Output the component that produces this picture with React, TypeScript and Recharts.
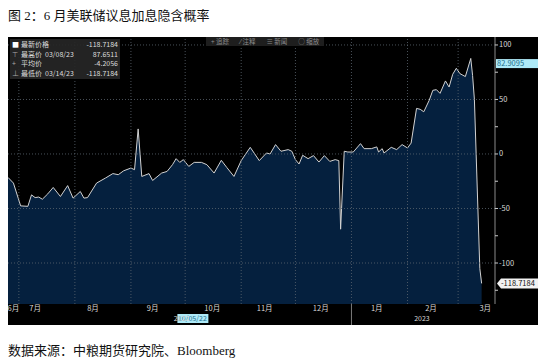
import { Area, AreaChart, ReferenceLine, XAxis, YAxis } from "recharts";

// implied hike probability, daily closes
const dates = [
  "2022-06-25", "2022-06-28", "2022-07-02", "2022-07-06", "2022-07-08", "2022-07-10", "2022-07-12",
  "2022-07-14", "2022-07-17", "2022-07-20", "2022-07-24", "2022-07-28", "2022-07-31", "2022-08-04",
  "2022-08-06", "2022-08-08", "2022-08-13", "2022-08-18", "2022-08-22", "2022-08-25", "2022-08-28",
  "2022-09-01", "2022-09-03", "2022-09-05", "2022-09-07", "2022-09-11", "2022-09-13", "2022-09-18",
  "2022-09-21", "2022-09-24", "2022-09-26", "2022-09-28", "2022-09-30", "2022-10-03", "2022-10-06",
  "2022-10-10", "2022-10-13", "2022-10-17", "2022-10-21", "2022-10-24", "2022-10-28", "2022-11-01",
  "2022-11-06", "2022-11-11", "2022-11-15", "2022-11-17", "2022-11-20", "2022-11-23", "2022-11-27",
  "2022-11-29", "2022-12-01", "2022-12-03", "2022-12-05", "2022-12-08", "2022-12-11", "2022-12-14",
  "2022-12-17", "2022-12-20", "2022-12-23", "2022-12-25", "2022-12-26", "2022-12-28", "2022-12-30",
  "2023-01-02", "2023-01-06", "2023-01-08", "2023-01-12", "2023-01-15", "2023-01-16", "2023-01-18",
  "2023-01-19", "2023-01-23", "2023-01-26", "2023-01-29", "2023-02-01", "2023-02-03", "2023-02-06",
  "2023-02-08", "2023-02-10", "2023-02-13", "2023-02-15", "2023-02-17", "2023-02-19", "2023-02-22",
  "2023-02-24", "2023-02-26", "2023-02-28", "2023-03-02", "2023-03-05", "2023-03-08", "2023-03-09",
  "2023-03-10", "2023-03-13", "2023-03-14",
];
const values = [
  -21.5, -26.7, -47.6, -48, -37.5, -40, -39.5,
  -41.5, -36.6, -30.7, -39, -29, -40.5, -34.4,
  -40.5, -40, -26.7, -22, -18, -19, -15.4,
  -12.9, -14.4, 23, -20.6, -18, -24.3, -17.5,
  -16, -9.8, -4.3, -7.7, -5.2, -11.4, -7.7,
  -7.7, -9.8, -17.5, -5.8, -12.3, -20.6, -6.1,
  6.1, -6.1, 0.9, 0, 8.6, 2.5, 4,
  2.5, -5.2, -9.2, -1.2, -4.3, -1.5, -7.4,
  -1.5, -6.8, -5.2, -6.1, -69, 2.5, 1.8,
  1.8, 9.5, 4.9, 4.9, 6.5, 1.8, 4.9,
  0.9, 6.1, 4, 8.6, 5.5, 10, 41.8,
  41, 38.7, 49.2, 58.4, 59, 55.6, 67,
  61.4, 73.1, 78.6, 73.7, 71, 87.6511, 72,
  50, -105, -118.7184,
];

const monthStarts = [
  "2022-07-01", "2022-08-01", "2022-09-01", "2022-10-01", "2022-11-01",
  "2022-12-01", "2023-01-01", "2023-02-01", "2023-03-01",
];
const monthLabels = ["6月", "7月", "8月", "9月", "10月", "11月", "12月", "1月", "2月", "3月"];
const monthLabelDates = [
  "2022-06-28", "2022-07-10", "2022-08-11", "2022-09-13", "2022-10-16",
  "2022-11-14", "2022-12-15", "2023-01-15", "2023-02-14", "2023-03-16",
];
const yearLabels = ["2022", "2023"];
const yearLabelDates = ["2022-09-29", "2023-02-09"];
const yTicks = [-125, -100, -75, -50, -25, 0, 25, 50, 75, 100];
const yGrid = [-100, -50, 0, 50, 100];

const legendRows = [
  { mark: "■", name: "最新价格", date: "", value: "-118.7184" },
  { mark: "⊤", name: "最高价", date: "03/08/23", value: "87.6511" },
  { mark: "+", name: "平均价", date: "", value: "-4.2056" },
  { mark: "⊥", name: "最低价", date: "03/14/23", value: "-118.7184" },
];
const toolbarItems = ["+ 追踪", "⁄ 注释", "≡ 新闻", "○ 缩放"];

const DAY0 = Date.UTC(2022, 5, 1);
const toDay = (s: string) => (Date.parse(s) - DAY0) / 86400000;

const data = dates.map((d, i) => ({ day: toDay(d), value: values[i] }));
const monthTickDays = monthLabelDates.map(toDay);
const yearTickDays = yearLabelDates.map(toDay);

const FONT = "'Noto Sans CJK SC', 'Noto Sans', sans-serif";
const AXIS_TEXT = "#d8d8d8";
const GRID = "#5c6670";

const MonthTick = ({ x, y, payload }: any) => {
  const idx = monthTickDays.indexOf(payload.value);
  return (
    <text x={x} y={y + 7} textAnchor="middle" fontSize={7.5} fontFamily={FONT} fill={AXIS_TEXT}>
      {monthLabels[idx]}
    </text>
  );
};

const YearTick = ({ x, y, payload }: any) => {
  const idx = yearTickDays.indexOf(payload.value);
  return (
    <text x={x} y={y + 6} textAnchor="middle" fontSize={7} fontFamily={FONT} fill={AXIS_TEXT}>
      {yearLabels[idx]}
    </text>
  );
};

const ValueTick = ({ x, y, payload }: any) => {
  if (payload.value % 50 !== 0) return null;
  return (
    <text x={x} y={y + 2.5} fontSize={7.5} fontFamily={FONT} fill={AXIS_TEXT}>
      {payload.value}
    </text>
  );
};

const CyanTag = ({ viewBox }: any) => {
  const x = viewBox.x + viewBox.width + 1;
  return (
    <g>
      <rect x={x} y={viewBox.y - 4.5} width={42} height={9} fill="#aeeaf8" />
      <text x={x + 1} y={viewBox.y + 2.5} fontSize={7.5} fontFamily={FONT} fill="#1f6e8c">
        82.9095
      </text>
    </g>
  );
};

const LastTag = ({ viewBox }: any) => {
  const x = viewBox.x + viewBox.width + 2;
  const y = viewBox.y;
  return (
    <g>
      <path d={`M${x} ${y} L${x + 4} ${y - 5} L${x + 43} ${y - 5} L${x + 43} ${y + 5} L${x + 4} ${y + 5} Z`} fill="#f2f2f2" />
      <text x={x + 4} y={y + 2.8} fontSize={7.5} fontFamily={FONT} fill="#111">
        -118.7184
      </text>
    </g>
  );
};

const DateTag = ({ viewBox }: any) => {
  const bottom = viewBox.y + viewBox.height;
  return (
    <g>
      <rect x={viewBox.x - 15} y={bottom + 10} width={31} height={9} fill="#aeeaf8" />
      <text x={viewBox.x} y={bottom + 17} textAnchor="middle" fontSize={7} fontFamily={FONT} fill="#1f6e8c">
        10/05/22
      </text>
    </g>
  );
};

const YearSeparator = ({ viewBox }: any) => {
  const bottom = viewBox.y + viewBox.height;
  return <line x1={viewBox.x} x2={viewBox.x} y1={bottom} y2={bottom + 21} stroke="#9a9a9a" strokeWidth={0.8} />;
};

export default function App() {
  return (
    <div style={{ position: "absolute", left: 0, top: 0, width: 550, height: 362, background: "#fff" }}>
      <div
        style={{
          position: "absolute",
          left: 8,
          top: 5,
          fontSize: 13,
          color: "#111",
          fontFamily: "'Liberation Serif', 'Noto Sans CJK SC', serif",
          whiteSpace: "nowrap",
        }}
      >
        图 2：6 月美联储议息加息隐含概率
      </div>

      <div style={{ position: "absolute", left: 8, top: 37, width: 530, height: 288, background: "#000" }}>
        <AreaChart width={530} height={288} data={data} margin={{ top: 0, right: 0, bottom: 0, left: 0 }}>
          <XAxis
            dataKey="day"
            type="number"
            domain={[24, 293.4]}
            ticks={monthTickDays}
            tick={<MonthTick />}
            axisLine={false}
            tickLine={false}
            tickSize={0}
            tickMargin={0}
            height={11}
            interval={0}
          />
          <XAxis
            xAxisId="year"
            dataKey="day"
            type="number"
            domain={[24, 293.4]}
            ticks={yearTickDays}
            tick={<YearTick />}
            axisLine={false}
            tickLine={false}
            tickSize={0}
            tickMargin={0}
            height={10}
            interval={0}
          />
          <YAxis
            orientation="right"
            type="number"
            domain={[-137.6, 107.3]}
            ticks={yTicks}
            tick={<ValueTick />}
            tickSize={3}
            tickMargin={1}
            tickLine={{ stroke: "#c8c8c8" }}
            axisLine={{ stroke: "#8a8a8a" }}
            width={43}
            interval={0}
          />
          <Area
            type="linear"
            dataKey="value"
            stroke="#d2d2d2"
            strokeWidth={1}
            fill="#05203e"
            fillOpacity={1}
            baseValue="dataMin"
            isAnimationActive={false}
            dot={false}
          />
          {yGrid.map((v) => (
            <ReferenceLine key={`y${v}`} y={v} stroke={GRID} strokeDasharray="1 2" strokeWidth={0.8} />
          ))}
          {monthStarts.map((m) => (
            <ReferenceLine key={m} x={toDay(m)} stroke={GRID} strokeDasharray="1 2" strokeWidth={0.8} />
          ))}
          <ReferenceLine y={82.9095} stroke="none" label={<CyanTag />} ifOverflow="visible" />
          <ReferenceLine y={-118.7184} stroke="none" label={<LastTag />} ifOverflow="visible" />
          <ReferenceLine x={toDay("2022-10-05")} stroke="none" label={<DateTag />} />
          <ReferenceLine x={toDay("2023-01-01")} stroke="none" label={<YearSeparator />} />
        </AreaChart>

        <div
          style={{
            position: "absolute",
            left: 2,
            top: 2,
            width: 106,
            padding: "1px 2px",
            background: "rgba(38,38,38,0.92)",
            fontFamily: FONT,
            fontSize: 7,
            lineHeight: "9.5px",
            color: "#dcdcdc",
          }}
        >
          {legendRows.map((r) => (
            <div key={r.name} style={{ display: "flex", whiteSpace: "nowrap", height: 9.5 }}>
              <span style={{ width: 9, color: r.mark === "■" ? "#fff" : "#aaa" }}>{r.mark}</span>
              <span style={{ marginRight: 3 }}>{r.name}</span>
              <span>{r.date}</span>
              <span style={{ marginLeft: "auto" }}>{r.value}</span>
            </div>
          ))}
        </div>

        <div
          style={{
            position: "absolute",
            left: 198,
            top: 0,
            height: 9,
            padding: "0 5px",
            display: "flex",
            gap: 11,
            background: "#1e1e1e",
            fontFamily: FONT,
            fontSize: 6.5,
            lineHeight: "9px",
            color: "#8c8c8c",
            whiteSpace: "nowrap",
          }}
        >
          {toolbarItems.map((t) => (
            <span key={t}>{t}</span>
          ))}
        </div>
      </div>

      <div
        style={{
          position: "absolute",
          left: 8,
          top: 340,
          fontSize: 13,
          color: "#111",
          fontFamily: "'Liberation Serif', 'Noto Sans CJK SC', serif",
          whiteSpace: "nowrap",
        }}
      >
        数据来源：中粮期货研究院、Bloomberg
      </div>
    </div>
  );
}
